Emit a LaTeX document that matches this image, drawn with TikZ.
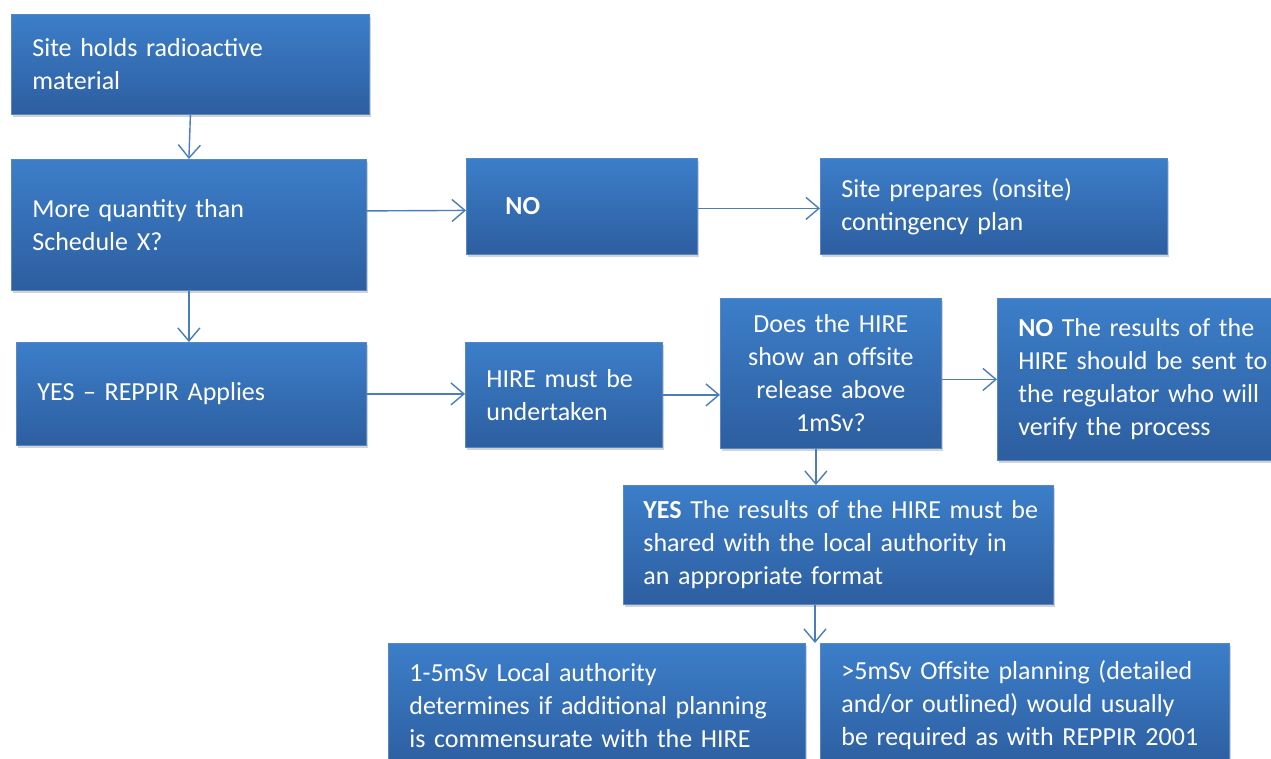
\documentclass[tikz,border=0pt]{standalone}
\usepackage{fontspec}
\setmainfont{Carlito}[WordSpace=0.85]
\usepackage{tikz}
\usetikzlibrary{arrows.meta, shadows, calc}

\definecolor{kastenoben}{RGB}{60,126,201}
\definecolor{kastenunten}{RGB}{45,94,160}
\definecolor{kastenrand}{RGB}{86,136,196}
\definecolor{pfeilblau}{RGB}{74,126,187}

\begin{document}
\begin{tikzpicture}[x=1pt, y=-1pt,
	kasten/.style={anchor=north west, draw=kastenrand, line width=0.8pt,
		top color=kastenoben, bottom color=kastenunten,
		drop shadow={shadow xshift=2pt, shadow yshift=-3pt, opacity=0.35},
		text=white, align=left, inner xsep=21pt, inner ysep=0pt,
		font=\fontsize{26pt}{33pt}\selectfont},
	pfeil/.style={-{Straight Barb[length=13pt, width=22pt]}, draw=pfeilblau, line width=1.4pt}]
	
	\clip (0,0) rectangle (1271,758);
	
	\node[kasten, minimum width=358pt, minimum height=100pt, text width=316pt](a) at (11,14) {Site holds radioactive\\material};
	\node[kasten, minimum width=355pt, minimum height=131pt, text width=313pt](b) at (11,159) {More quantity than\\Schedule X?};
	\node[kasten, minimum width=231pt, minimum height=96pt, inner xsep=39pt, text width=153pt](c) at (466,158) {\textbf{NO}};
	\node[kasten, minimum width=347pt, minimum height=96pt, text width=305pt](d) at (820,158) {Site prepares (onsite)\\contingency plan};
	\node[kasten, minimum width=350pt, minimum height=103pt, text width=308pt](e) at (16,342) {YES -- REPPIR Applies};
	\node[kasten, minimum width=197pt, minimum height=105pt, text width=155pt](f) at (465,342) {HIRE must be\\undertaken};
	\node[kasten, minimum width=221pt, minimum height=150pt, inner xsep=10pt, text width=201pt, align=center](g) at (720,298) {Does the HIRE\\show an offsite\\release above\\1mSv?};
	\node[kasten, minimum width=300pt, minimum height=162pt, text width=258pt](h) at (997,298) {\textbf{NO} The results of the\\HIRE should be sent to\\the regulator who will\\verify the process};
	\node[kasten, minimum width=430pt, minimum height=119pt, inner xsep=20pt, text width=390pt](i) at (623,485) {\mbox{\textbf{YES} The results of the HIRE must be}\\shared with the local authority in\\an appropriate format};
	\node[kasten, minimum width=417pt, minimum height=124pt, text width=375pt](j) at (388,643) {1-5mSv Local authority\\determines if additional planning\\is commensurate with the HIRE};
	\node[kasten, minimum width=409pt, minimum height=124pt, text width=367pt](k) at (820,643) {>5mSv Offsite planning (detailed\\and/or outlined) would usually\\be required as with REPPIR 2001};
	
	\coordinate (i_ende) at (815,643);
	
	% senkrechte Pfeile
	\draw[pfeil] (a.south) -- (b.north);
	\draw[pfeil] (b.south) -- (e.north -| b.south);
	\draw[pfeil] ([xshift=-15pt]g.south) -- ([xshift=-15pt]g.south |- i.north);
	\draw[pfeil] (i_ende |- i.south) -- (i_ende);
	
	% waagerechte Pfeile
	\draw[pfeil] ($(b.east)+(0,-14)$) -- ($(c.west)+(0,4)$);
	\draw[pfeil] ($(c.east)+(0,2)$) -- ($(d.west)+(0,2)$);
	\draw[pfeil] (e.east) -- (f.west |- e.east);
	\draw[pfeil] (f.east) -- (g.west |- f.east);
	\draw[pfeil] (h.west -| g.east) -- (h.west);
\end{tikzpicture}
\end{document}
